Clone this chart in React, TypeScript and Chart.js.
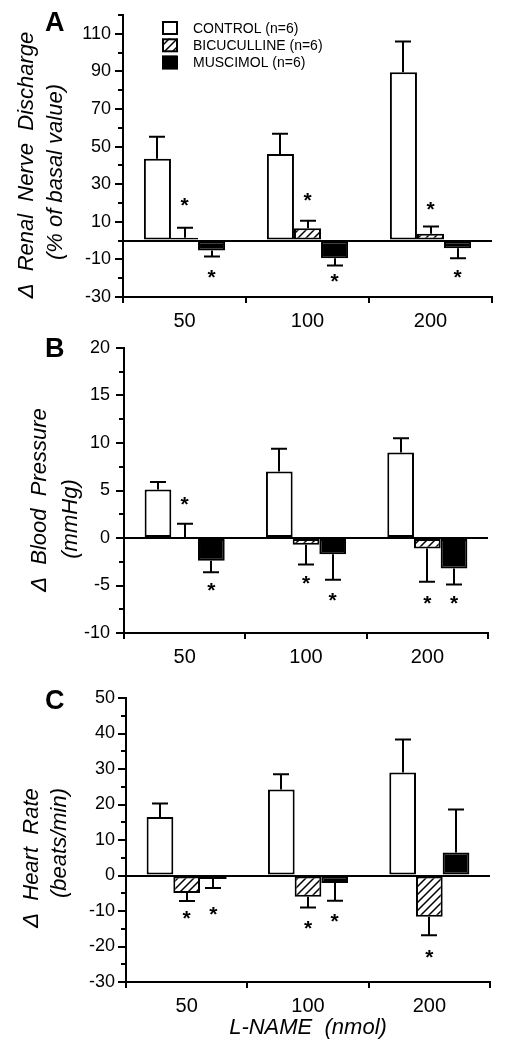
import React, { useEffect, useRef } from 'react';
import { Chart, registerables } from 'chart.js';

Chart.register(...registerables);

const FONT = '"Liberation Sans", Arial, Helvetica, sans-serif';
Chart.defaults.font.family = FONT;
Chart.defaults.color = '#000';

// ---------- shared categories / series ----------
const doses = ['50', '100', '200'];
const groups = ['CONTROL (n=6)', 'BICUCULLINE (n=6)', 'MUSCIMOL (n=6)'];

// ---------- Panel A: renal nerve discharge (% of basal) ----------
const rndControl = [43.5, 46.1, 89.6];
const rndBicuculline = [1.5, 6.6, 3.6];
const rndMuscimol = [-5.3, -9.4, -4.1];
const rndControlSem = [11.7, 10.7, 16.3];
const rndBicucullineSem = [5.4, 4.0, 3.9];
const rndMuscimolSem = [3.2, 3.9, 5.3];
const rndBicucullineStar = [21.7, 24.0, 19.5];
const rndMuscimolStar = [-16.7, -18.8, -16.8];
const rndTicks = [110, 90, 70, 50, 30, 10, -10, -30];

// ---------- Panel B: blood pressure (mmHg) ----------
const bpControl = [5.1, 7.0, 9.0];
const bpBicuculline = [0, -0.7, -1.1];
const bpMuscimol = [-2.4, -1.7, -3.2];
const bpControlSem = [0.8, 2.4, 1.5];
const bpBicucullineSem = [1.5, 2.1, 3.5];
const bpMuscimolSem = [1.2, 2.7, 1.7];
const bpBicucullineStar = [4.1, -4.2, -6.3];
const bpMuscimolStar = [-4.9, -6.0, -6.3];
const bpTicks = [20, 15, 10, 5, 0, -5, -10];

// ---------- Panel C: heart rate (beats/min) ----------
const hrControl = [16.5, 24.2, 29.0];
const hrBicuculline = [-4.9, -6.0, -11.6];
const hrMuscimol = [-1.0, -2.1, 6.5];
const hrControlSem = [3.8, 4.3, 9.3];
const hrBicucullineSem = [2.3, 3.0, 5.2];
const hrMuscimolSem = [2.5, 5.0, 12.1];
const hrBicucullineStar = [-10.7, -13.3, -21.5];
const hrMuscimolStar = [-9.3, -11.4, null];
const hrTicks = [50, 40, 30, 20, 10, 0, -10, -20, -30];

function makeHatch(): CanvasPattern | string {
  const c = document.createElement('canvas');
  c.width = 8;
  c.height = 8;
  const g = c.getContext('2d');
  if (!g) return '#fff';
  g.fillStyle = '#fff';
  g.fillRect(0, 0, 8, 8);
  g.strokeStyle = '#000';
  g.lineWidth = 1.5;
  g.beginPath();
  g.moveTo(0, 8);
  g.lineTo(8, 0);
  g.moveTo(-2, 2);
  g.lineTo(2, -2);
  g.moveTo(6, 10);
  g.lineTo(10, 6);
  g.stroke();
  return g.createPattern(c, 'repeat') || '#fff';
}

const figurePlugin = {
  id: 'figure',
  afterDatasetsDraw(chart: any, _args: any, opts: any) {
    const { ctx } = chart;
    const ys = chart.scales.y;
    ctx.save();
    ctx.strokeStyle = '#000';
    ctx.lineWidth = 2;
    // error bars (SEM) pointing away from zero
    (opts.sems || []).forEach((sems: number[], di: number) => {
      const meta = chart.getDatasetMeta(di);
      const vals = chart.data.datasets[di].data as number[];
      sems.forEach((e, i) => {
        const bar = meta.data[i];
        const v = vals[i];
        const tip = v >= 0 ? v + e : v - e;
        const y0 = ys.getPixelForValue(v);
        const y1 = ys.getPixelForValue(tip);
        const x = Math.round(bar.x);
        ctx.beginPath();
        ctx.moveTo(x, y0);
        ctx.lineTo(x, y1);
        ctx.moveTo(x - 8, y1);
        ctx.lineTo(x + 8, y1);
        ctx.stroke();
      });
    });
    // significance marks
    ctx.fillStyle = '#000';
    ctx.font = `bold 21px ${FONT}`;
    ctx.textAlign = 'center';
    ctx.textBaseline = 'alphabetic';
    (opts.stars || []).forEach((stars: (number | null)[], di: number) => {
      const meta = chart.getDatasetMeta(di);
      stars.forEach((s, i) => {
        if (s === null || s === undefined) return;
        const bar = meta.data[i];
        ctx.fillText('*', bar.x, ys.getPixelForValue(s) + 12);
      });
    });
    ctx.restore();
  },
  afterDraw(chart: any, _args: any, opts: any) {
    const { ctx, chartArea } = chart;
    const ys = chart.scales.y;
    ctx.save();
    // y-axis tick marks (long at labelled values, short between)
    ctx.strokeStyle = '#000';
    ctx.lineWidth = 2;
    const x = chartArea.left;
    ys.ticks.forEach((t: any) => {
      const py = Math.round(ys.getPixelForValue(t.value));
      const len = t.label !== '' ? 8 : 5;
      ctx.beginPath();
      ctx.moveTo(x - len, py);
      ctx.lineTo(x, py);
      ctx.stroke();
    });
    // y-axis title lines
    if (opts.yTitle) {
      ctx.fillStyle = '#000';
      ctx.font = `italic 22px ${FONT}`;
      ctx.textAlign = 'center';
      ctx.textBaseline = 'middle';
      opts.yTitle.lines.forEach((line: string, i: number) => {
        ctx.save();
        ctx.translate(opts.yTitle.xs[i], opts.yTitle.ys[i]);
        ctx.rotate(-Math.PI / 2);
        ctx.fillText(line, 0, 0);
        ctx.restore();
      });
    }
    // legend
    if (opts.legend) {
      const x0 = chartArea.left + 39;
      const y0 = chartArea.top + 6;
      chart.data.datasets.forEach((ds: any, i: number) => {
        const y = y0 + i * 17.3;
        ctx.fillStyle = ds.backgroundColor;
        ctx.fillRect(x0, y, 15, 13);
        ctx.strokeStyle = '#000';
        ctx.lineWidth = 2;
        ctx.strokeRect(x0 + 1, y + 1, 14, 12);
        ctx.fillStyle = '#000';
        ctx.font = `14px ${FONT}`;
        ctx.textAlign = 'left';
        ctx.textBaseline = 'middle';
        ctx.fillText(ds.label, x0 + 31, y + 8);
      });
    }
    ctx.restore();
  },
};

type Spec = {
  height: number;
  series: number[][];
  sems: number[][];
  stars: (number | null)[][];
  min: number;
  max: number;
  step: number;
  tickLabels: number[];
  labelPad: number;
  padTop: number;
  padRight: number;
  yWidth: number;
  xHeight: number;
  yTitle: { lines: string[]; xs: number[]; ys: number[] };
  legend: boolean;
  xTitle?: string;
};

function Panel({ top, spec }: { top: number; spec: Spec }) {
  const ref = useRef<HTMLCanvasElement | null>(null);
  useEffect(() => {
    if (!ref.current) return;
    const hatch = makeHatch();
    const fills: any[] = ['#ffffff', hatch, '#000000'];
    const chart = new Chart(ref.current, {
      type: 'bar',
      data: {
        labels: doses,
        datasets: spec.series.map((d, i) => ({
          label: groups[i],
          data: d,
          backgroundColor: fills[i],
          borderColor: '#000',
          borderWidth: 2,
          borderSkipped: false,
          categoryPercentage: 0.66,
          barPercentage: 1.0,
        })),
      },
      options: {
        responsive: false,
        animation: false,
        devicePixelRatio: 1,
        layout: { padding: { top: spec.padTop, right: spec.padRight, left: 0, bottom: 0 } },
        plugins: {
          legend: { display: false },
          tooltip: { enabled: false },
          figure: { sems: spec.sems, stars: spec.stars, yTitle: spec.yTitle, legend: spec.legend },
        } as any,
        scales: {
          x: {
            grid: {
              display: true,
              drawOnChartArea: false,
              drawTicks: true,
              tickLength: 6,
              color: '#000',
              lineWidth: 2,
              offset: true,
            },
            border: { display: true, color: '#000', width: 2 },
            ticks: { font: { size: 20, family: FONT }, color: '#000', padding: 6, maxRotation: 0 },
            title: spec.xTitle
              ? {
                  display: true,
                  text: spec.xTitle,
                  color: '#000',
                  font: { size: 22, style: 'italic', family: FONT },
                  padding: { top: 0, bottom: 9 },
                }
              : { display: false },
            afterFit: (s: any) => {
              s.height = spec.xHeight;
            },
          },
          y: {
            min: spec.min,
            max: spec.max,
            ticks: {
              stepSize: spec.step,
              autoSkip: false,
              padding: 0,
              color: '#000',
              font: { size: 18, family: FONT },
              callback: (v: any) => (spec.tickLabels.some((t) => Math.abs(t - Number(v)) < 1e-6) ? String(v) : ''),
            },
            grid: {
              drawTicks: true,
              tickLength: spec.labelPad,
              tickColor: 'rgba(0,0,0,0)',
              drawOnChartArea: true,
              color: (ctx: any) => (ctx.tick && Math.abs(ctx.tick.value) < 1e-9 ? '#000' : 'rgba(0,0,0,0)'),
              lineWidth: 2,
            },
            border: { display: true, color: '#000', width: 2 },
            afterFit: (s: any) => {
              s.width = spec.yWidth;
            },
          },
        },
      } as any,
      plugins: [figurePlugin as any],
    });
    return () => chart.destroy();
  }, []);
  return (
    <canvas
      ref={ref}
      width={510}
      height={spec.height}
      style={{ position: 'absolute', left: 0, top, width: 510, height: spec.height }}
    />
  );
}

const specA: Spec = {
  height: 335,
  series: [rndControl, rndBicuculline, rndMuscimol],
  sems: [rndControlSem, rndBicucullineSem, rndMuscimolSem],
  stars: [[null, null, null], rndBicucullineStar, rndMuscimolStar],
  min: -30,
  max: 120,
  step: 10,
  tickLabels: rndTicks,
  labelPad: 12,
  padTop: 15,
  padRight: 18,
  yWidth: 123,
  xHeight: 38,
  yTitle: { lines: ['\u0394  Renal  Nerve  Discharge', '(% of basal value)'], xs: [27, 56], ys: [165, 172] },
  legend: true,
};

const specB: Spec = {
  height: 345,
  series: [bpControl, bpBicuculline, bpMuscimol],
  sems: [bpControlSem, bpBicucullineSem, bpMuscimolSem],
  stars: [[null, null, null], bpBicucullineStar, bpMuscimolStar],
  min: -10,
  max: 20,
  step: 2.5,
  tickLabels: bpTicks,
  labelPad: 14,
  padTop: 13,
  padRight: 22,
  yWidth: 124,
  xHeight: 47,
  yTitle: { lines: ['\u0394  Blood  Pressure', '(mmHg)'], xs: [40, 71], ys: [165, 184] },
  legend: false,
};

const specC: Spec = {
  height: 370,
  series: [hrControl, hrBicuculline, hrMuscimol],
  sems: [hrControlSem, hrBicucullineSem, hrMuscimolSem],
  stars: [[null, null, null], hrBicucullineStar, hrMuscimolStar],
  min: -30,
  max: 50,
  step: 5,
  tickLabels: hrTicks,
  labelPad: 11,
  padTop: 18,
  padRight: 20,
  yWidth: 126,
  xHeight: 68,
  yTitle: { lines: ['\u0394  Heart  Rate', '(beats/min)'], xs: [32, 60], ys: [178, 163] },
  legend: false,
  xTitle: 'L-NAME  (nmol)',
};

const letterStyle = (top: number): React.CSSProperties => ({
  position: 'absolute',
  left: 45,
  top,
  font: `bold 27px ${FONT}`,
  lineHeight: '27px',
  color: '#000',
});

export default function App() {
  return (
    <div style={{ position: 'absolute', left: 0, top: 0, width: 510, height: 1050, background: '#fff' }}>
      <Panel top={0} spec={specA} />
      <Panel top={335} spec={specB} />
      <Panel top={680} spec={specC} />
      <div style={letterStyle(9)}>A</div>
      <div style={letterStyle(335)}>B</div>
      <div style={letterStyle(687)}>C</div>
    </div>
  );
}
